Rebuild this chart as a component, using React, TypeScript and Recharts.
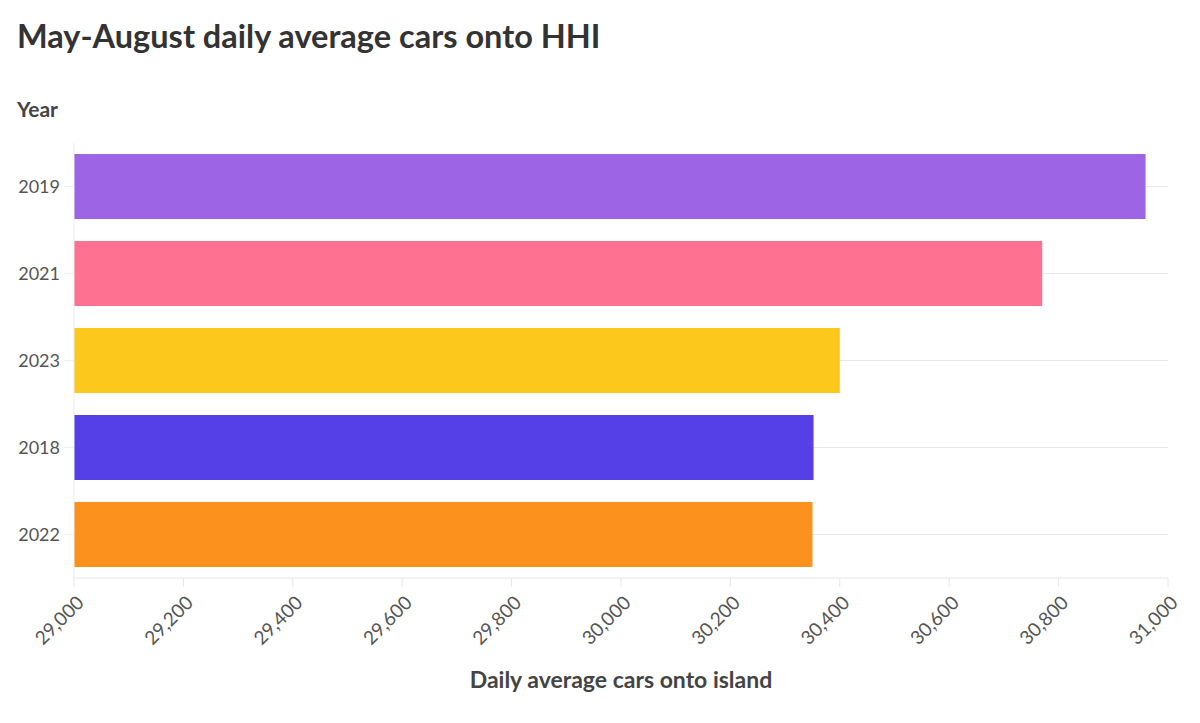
import { BarChart, Bar, XAxis, YAxis, CartesianGrid, Cell } from "recharts"

const years = ["2019", "2021", "2023", "2018", "2022"]
const avgCars = [30959, 30770, 30400, 30352, 30350]
const barColors = ["#9d64e6", "#ff7190", "#fcc81c", "#5540e8", "#fc921d"]
const xTicks = [29000, 29200, 29400, 29600, 29800, 30000, 30200, 30400, 30600, 30800, 31000]

const chartData = years.map((year, i) => ({ year, value: avgCars[i] }))

const FONT = "Lato, 'Open Sans', sans-serif"

const AngledTick = ({ x, y, payload }: any) => {
  const ax = x + 11
  const ay = y + 15
  return (
    <text
      x={ax}
      y={ay}
      transform={`rotate(-45, ${ax}, ${ay})`}
      textAnchor="end"
      fontSize={19}
      fill="#555"
      fontFamily={FONT}
    >
      {Number(payload.value).toLocaleString("en-US")}
    </text>
  )
}

export default function App() {
  return (
    <div style={{ position: "absolute", left: 0, top: 0, width: 1200, height: 723, background: "#fff", fontFamily: FONT }}>
      <div style={{ position: "absolute", left: 17, top: 16, fontSize: 32.5, fontWeight: 700, color: "#333", whiteSpace: "nowrap" }}>
        May-August daily average cars onto HHI
      </div>
      <div style={{ position: "absolute", left: 17, top: 96, fontSize: 21, fontWeight: 700, color: "#444" }}>
        Year
      </div>
      <BarChart
        width={1200}
        height={723}
        data={chartData}
        layout="vertical"
        margin={{ top: 143, right: 32, left: 0, bottom: 55 }}
      >
        <CartesianGrid horizontal vertical={false} syncWithTicks stroke="#e8e8e8" />
        <XAxis
          type="number"
          domain={[29000, 31000]}
          ticks={xTicks}
          interval={0}
          height={90}
          tickSize={9}
          tickMargin={2}
          stroke="#e6e6e6"
          tick={<AngledTick />}
        />
        <YAxis
          type="category"
          dataKey="year"
          width={74}
          tickSize={10}
          tickMargin={4}
          stroke="#eeeeee"
          tick={{ fontSize: 18, fill: "#555", fontFamily: FONT }}
        />
        <Bar dataKey="value" barSize={65} isAnimationActive={false}>
          {chartData.map((entry, i) => (
            <Cell key={entry.year} fill={barColors[i]} />
          ))}
        </Bar>
      </BarChart>
      <div style={{ position: "absolute", left: 0, width: 1242, top: 665, textAlign: "center", fontSize: 23, fontWeight: 700, color: "#444" }}>
        Daily average cars onto island
      </div>
    </div>
  )
}
